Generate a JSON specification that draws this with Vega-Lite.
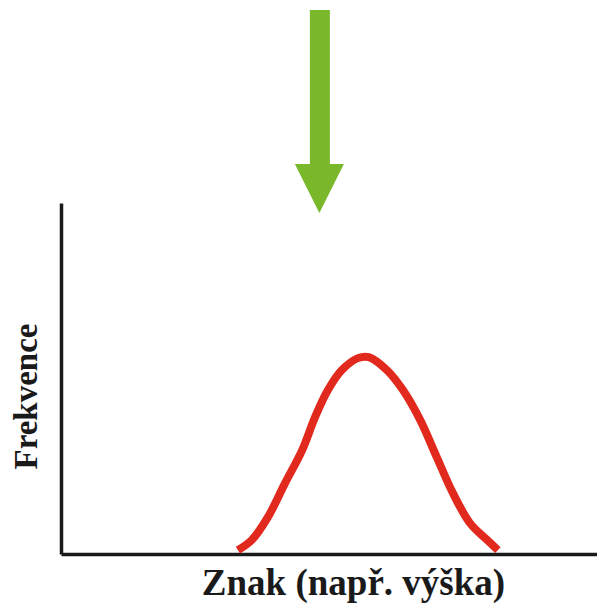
{
  "$schema": "https://vega.github.io/schema/vega-lite/v6.json",
  "width": 536,
  "height": 351,
  "autosize": {"type": "none"},
  "padding": {"left": 61, "top": 203, "right": 0, "bottom": 52},
  "background": "white",
  "config": {"view": {"stroke": null}},
  "datasets": {
    "curve": [
      {"znak": 33.0, "frekvence": 1.1},
      {"znak": 35.6, "frekvence": 4.0},
      {"znak": 38.6, "frekvence": 10.5},
      {"znak": 41.8, "frekvence": 20.2},
      {"znak": 45.0, "frekvence": 29.6},
      {"znak": 47.4, "frekvence": 39.0},
      {"znak": 49.8, "frekvence": 46.7},
      {"znak": 52.4, "frekvence": 52.4},
      {"znak": 55.4, "frekvence": 55.8},
      {"znak": 57.4, "frekvence": 56.1},
      {"znak": 60.8, "frekvence": 52.4},
      {"znak": 63.8, "frekvence": 46.7},
      {"znak": 67.0, "frekvence": 38.2},
      {"znak": 70.1, "frekvence": 27.6},
      {"znak": 73.1, "frekvence": 17.4},
      {"znak": 76.3, "frekvence": 8.8},
      {"znak": 79.5, "frekvence": 4.0},
      {"znak": 81.5, "frekvence": 1.1}
    ],
    "shaft": [{"znak": 48.3, "top": 155, "bottom": 110.8}],
    "head": [{"znak": 48.2, "frekvence": 104.1}]
  },
  "layer": [
    {
      "data": {"name": "curve"},
      "mark": {"type": "line", "color": "#e2291d", "strokeWidth": 8, "interpolate": "catmull-rom", "strokeCap": "butt"},
      "encoding": {
        "x": {
          "field": "znak", "type": "quantitative",
          "scale": {"domain": [0, 100], "nice": false, "zero": false},
          "axis": {
            "title": "Znak (např. výška)",
            "labels": false, "ticks": false, "grid": false,
            "domainColor": "#1a1a1a", "domainWidth": 3.5,
            "titleFont": "Liberation Serif", "titleFontWeight": "bold", "titleFontSize": 37,
            "titleColor": "#1a1a1a",
            "titleX": 292, "titleY": 40, "titleBaseline": "alphabetic", "titleAlign": "center"
          }
        },
        "y": {
          "field": "frekvence", "type": "quantitative",
          "scale": {"domain": [0, 100], "nice": false, "zero": false},
          "axis": {
            "title": "Frekvence",
            "labels": false, "ticks": false, "grid": false,
            "domainColor": "#1a1a1a", "domainWidth": 3.5,
            "titleFont": "Liberation Serif", "titleFontWeight": "bold", "titleFontSize": 33,
            "titleColor": "#1a1a1a",
            "titleX": -25, "titleY": 193, "titleBaseline": "alphabetic", "titleAlign": "center", "titleAngle": -90
          }
        }
      }
    },
    {
      "data": {"name": "shaft"},
      "mark": {"type": "rule", "color": "#7ab82b", "strokeWidth": 20, "strokeCap": "butt"},
      "encoding": {
        "x": {"field": "znak", "type": "quantitative"},
        "y": {"field": "top", "type": "quantitative"},
        "y2": {"field": "bottom"}
      }
    },
    {
      "data": {"name": "head"},
      "mark": {"type": "point", "shape": "M-1,-1H1L0,1Z", "size": 2401, "filled": true, "color": "#7ab82b", "opacity": 1, "strokeWidth": 0},
      "encoding": {
        "x": {"field": "znak", "type": "quantitative"},
        "y": {"field": "frekvence", "type": "quantitative"}
      }
    }
  ]
}
